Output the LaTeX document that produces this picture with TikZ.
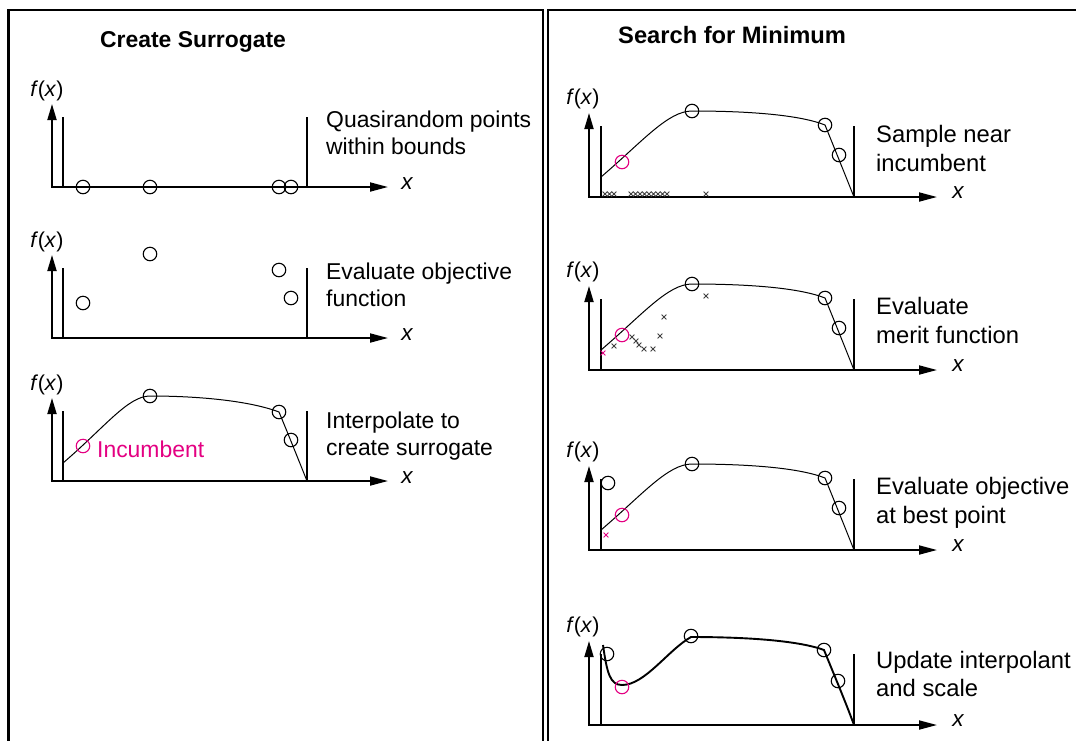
\documentclass[tikz,border=0pt]{standalone}
\usepackage{fontspec}
\setmainfont{Liberation Sans}
\usetikzlibrary{arrows.meta}
\definecolor{inc}{RGB}{228,0,130}
\newcommand\LAxes{%
 \draw[axes] (52,-83) -- (52,0) -- (388,0);
 \draw[bound] (63,-70) -- (63,0);
 \draw[bound] (307,-70) -- (307,0);
 \node[fx] (fx) at (47,-96) {\textit{f}\kern-0.5pt(\textit{x})};
 \node[xl] (xl) at (407,-3) {x};}
\newcommand\RAxes{%
 \draw[axes] (589,-84) -- (589,0) -- (937,0);
 \draw[bound] (601,-71) -- (601,0);
 \draw[bound] (854,-71) -- (854,0);
 \node[fx] (fx) at (583,-98) {\textit{f}\kern-0.5pt(\textit{x})};
 \node[xl] (xl) at (958,-4) {x};}
\newcommand\RCurve{%
 \draw[curve] (601,-20) .. controls (643,-56) and (668,-86) .. (692,-86)
   .. controls (750,-86) and (800,-82) .. (825,-72)
   .. controls (836,-45) and (846,-20) .. (854,0);}
\newcommand\RPts{%
 \node[pt] (q2) at (692,-86) {};
 \node[pt] (q3) at (825,-72) {};
 \node[pt] (q4) at (839,-42) {};
 \node[ipt] (q1) at (622,-35) {};}
\newcommand\xmk[3][black!75]{\draw[xm,draw=#1] (#2-2.4,#3-2.4) -- (#2+2.4,#3+2.4) (#2-2.4,#3+2.4) -- (#2+2.4,#3-2.4);}
\begin{document}
\begin{tikzpicture}[x=1pt,y=-1pt,
  axes/.style={line width=1.8pt,{Triangle[length=16pt,width=9pt]}-{Triangle[length=18pt,width=9pt]}},
  bound/.style={line width=1.5pt},
  curve/.style={line width=1pt},
  pt/.style={circle,draw,line width=1.1pt,minimum size=13.5pt,inner sep=0pt},
  ipt/.style={pt,draw=inc},
  txt/.style={anchor=mid west,inner sep=0pt,font=\fontsize{22.9}{26}\selectfont},
  rtxt/.style={anchor=mid west,inner sep=0pt,font=\fontsize{23.8}{27}\selectfont},
  ttl/.style={anchor=mid west,inner sep=0pt,font=\fontsize{22.9}{26}\selectfont\bfseries},
  rttl/.style={anchor=mid west,inner sep=0pt,font=\fontsize{23.7}{26}\selectfont\bfseries},
  fx/.style={inner sep=0pt,font=\fontsize{21.5}{24}\selectfont},
  xl/.style={inner sep=0pt,font=\fontsize{22.5}{24}\selectfont\itshape},
  xm/.style={line width=0.9pt},
  frame/.style={line width=2.2pt}]
\useasboundingbox (0,0) rectangle (1076,740);
\fill[white] (0,0) rectangle (1076,740);
\draw[frame] (8.5,760) -- (8.5,10) -- (543,10) -- (543,760);
\draw[frame] (548,760) -- (548,10) -- (1090,10);

\node[ttl] (t1) at (100,45) {Create Surrogate};
\node[rttl] (t2) at (618,41) {Search for Minimum};

% ---- left plot 1
\begin{scope}[shift={(0,187)},name prefix=a-]
 \LAxes
 \node[pt] (p1) at (83,0) {};
 \node[pt] (p2) at (150,0) {};
 \node[pt] (p3) at (279,0) {};
 \node[pt] (p4) at (291,0) {};
 \node[txt] (l1) at (326,-62) {Quasirandom points};
 \node[txt] (l2) at (326,-35) {within bounds};
\end{scope}

% ---- left plot 2
\begin{scope}[shift={(0,338)},name prefix=b-]
 \LAxes
 \node[pt] (p1) at (83,-35) {};
 \node[pt] (p2) at (150,-84) {};
 \node[pt] (p3) at (279,-68) {};
 \node[pt] (p4) at (291,-40) {};
 \node[txt] (l1) at (326,-61) {Evaluate objective};
 \node[txt] (l2) at (326,-34) {function};
\end{scope}

% ---- left plot 3
\begin{scope}[shift={(0,481)},name prefix=c-]
 \LAxes
 \draw[curve] (63,-18) .. controls (105,-54) and (128,-85) .. (150,-85)
   .. controls (200,-85) and (250,-80) .. (279,-69)
   .. controls (289,-45) and (299,-20) .. (307,0);
 \node[pt] (p2) at (150,-85) {};
 \node[pt] (p3) at (279,-69) {};
 \node[pt] (p4) at (291,-41) {};
 \node[ipt] (p1) at (83,-35) {};
 \node[txt,text=inc] (inc) at (97,-26) {Incumbent};
 \node[txt] (l1) at (326,-55) {Interpolate to};
 \node[txt] (l2) at (326,-28) {create surrogate};
\end{scope}

% ---- right plot A
\begin{scope}[shift={(0,197)},name prefix=d-]
 \RAxes
 \RCurve
 \RPts
 \foreach \u in {605,609.5,614,631,635.5,640,644.5,649,653.5,658,662.5,667,706} {\xmk{\u}{-3}}
 \node[rtxt] (l1) at (876,-57) {Sample near};
 \node[rtxt] (l2) at (876,-28) {incumbent};
\end{scope}

% ---- right plot B
\begin{scope}[shift={(0,370)},name prefix=e-]
 \RAxes
 \RCurve
 \RPts
 \xmk[inc]{603}{-17}
 \foreach \u/\v in {614/-24,632/-33,636/-29,639/-25,644/-21,653/-21,660/-34,664/-53,706/-74} {\xmk{\u}{\v}}
 \node[rtxt] (l1) at (876,-58) {Evaluate};
 \node[rtxt] (l2) at (876,-29) {merit function};
\end{scope}

% ---- right plot C
\begin{scope}[shift={(0,550)},name prefix=f-]
 \RAxes
 \RCurve
 \RPts
 \node[pt] (q0) at (608,-67) {};
 \xmk[inc]{606}{-15}
 \node[rtxt] (l1) at (876,-58) {Evaluate objective};
 \node[rtxt] (l2) at (876,-29) {at best point};
\end{scope}

% ---- right plot D
\begin{scope}[shift={(0,725)},name prefix=g-]
 \RAxes
 \draw[line width=1.9pt] (603,-80) .. controls (607,-52) and (610,-40) .. (622,-40)
   .. controls (645,-40) and (668,-75) .. (691,-88)
   .. controls (750,-88) and (800,-84) .. (824,-75)
   .. controls (835,-48) and (846,-22) .. (854,0);
 \node[pt] (q0) at (607,-71) {};
 \node[pt] (q2) at (691,-89) {};
 \node[pt] (q3) at (824,-75) {};
 \node[pt] (q4) at (838,-44) {};
 \node[ipt] (q1) at (622,-38) {};
 \node[rtxt] (l1) at (876,-59) {Update interpolant};
 \node[rtxt] (l2) at (876,-31) {and scale};
\end{scope}
\end{tikzpicture}
\end{document}
